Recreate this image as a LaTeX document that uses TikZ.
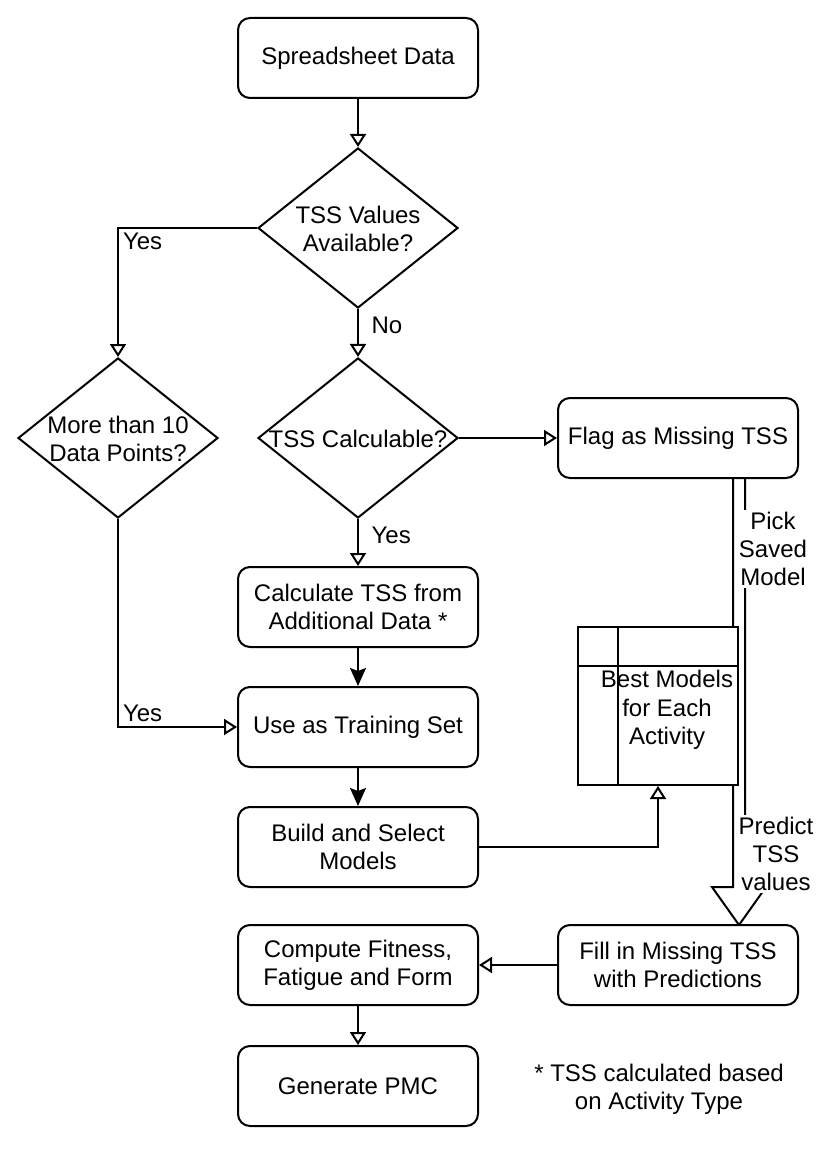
\documentclass[tikz,border=0pt]{standalone}
\usepackage{fontspec}
\setmainfont{Liberation Sans}
\usetikzlibrary{shapes.geometric,arrows.meta}
\tikzset{flowsec/.style={x=0.5pt,y=-0.5pt,font=\fontsize{12}{14.2}\selectfont,line width=1pt},
  stepbox/.style={draw,fill=white,rounded corners=6pt,minimum width=120pt,minimum height=40pt,align=center},
  decide/.style={draw,diamond,minimum width=100pt,minimum height=80pt,inner sep=0pt},
  lbl/.style={align=center,inner sep=1pt},
  opena/.style={-{Triangle[open,length=6.5pt,width=8pt]}},
  fulla/.style={-{Stealth[length=9pt,width=8pt,inset=1.5pt]}}}

\begin{document}
\begin{tikzpicture}[flowsec]
    \useasboundingbox[fill=white] (0,0) rectangle (838,1150);
    % wide arrow Flag -> Fill, drawn first so the boxes sit on it
    \draw (733,470) -- (733,887) -- (712,887) -- (739,925) -- (766,887) -- (745,887) -- (745,470);
    \node[stepbox] (sd) at (358,58) {Spreadsheet Data};
    \node[decide] (tv) at (358,228) {};
    \node[lbl] (tvt) at (358,229) {TSS Values\\Available?};
    \node[decide] (mt) at (118,438) {};
    \node[lbl] (mtt) at (118,439) {More than 10\\Data Points?};
    \node[decide] (tc) at (358,438) {};
    \node[lbl] (tct) at (358,439) {TSS Calculable?};
    \node[stepbox] (fl) at (678,438) {Flag as Missing TSS};
    \node[stepbox] (ct) at (358,607) {Calculate TSS from\\Additional Data *};
    \node[stepbox] (ts) at (358,727) {Use as Training Set};
    \node[stepbox] (bs) at (358,847) {Build and Select\\Models};
    \node[stepbox] (fi) at (678,965) {Fill in Missing TSS\\with Predictions};
    \node[stepbox] (cf) at (358,965) {Compute Fitness,\\Fatigue and Form};
    \node[stepbox] (pmc) at (358,1086) {Generate PMC};
    \node[align=center] (note) at (659,1089) {* TSS calculated based\\on Activity Type};
    % model store
    \node[draw,fill=white,minimum width=80pt,minimum height=79pt,inner sep=0pt] (bm) at (658,706) {};
    \draw ([xshift=20.5pt]bm.north west) -- ([xshift=20.5pt]bm.south west);
    \draw ([yshift=-20pt]bm.north west) -- ([yshift=-20pt]bm.north east);
    \node[lbl] (bmt) at (667,710) {Best Models\\for Each\\Activity};
    \node[lbl,fill=white] (psm) at (773,549) {Pick\\Saved\\Model};
    \node[lbl,fill=white] (ptv) at (776,854) {Predict\\TSS\\values};
    % connectors
    \draw[opena] (sd) -- (tv);
    \draw[opena] (tv.west) -| node[pos=0.5,below right,inner sep=2pt] (y1) {Yes} (mt.north);
    \draw[opena] (tv) -- node[pos=0.34,right=3pt] (n1) {No} (tc);
    \draw[opena] (tc) -- (fl);
    \draw[opena] (tc) -- node[pos=0.34,right=3pt] (y2) {Yes} (ct);
    \draw[fulla] (ct) -- (ts);
    \draw[opena] (mt.south) |- node[pos=0.5,above right,inner sep=2pt] (y3) {Yes} (ts.west);
    \draw[fulla] (ts) -- (bs);
    \draw[opena] (bs.east) -| (bm.south);
    \draw[opena] (fi) -- (cf);
    \draw[opena] (cf) -- (pmc);
\end{tikzpicture}
\end{document}
